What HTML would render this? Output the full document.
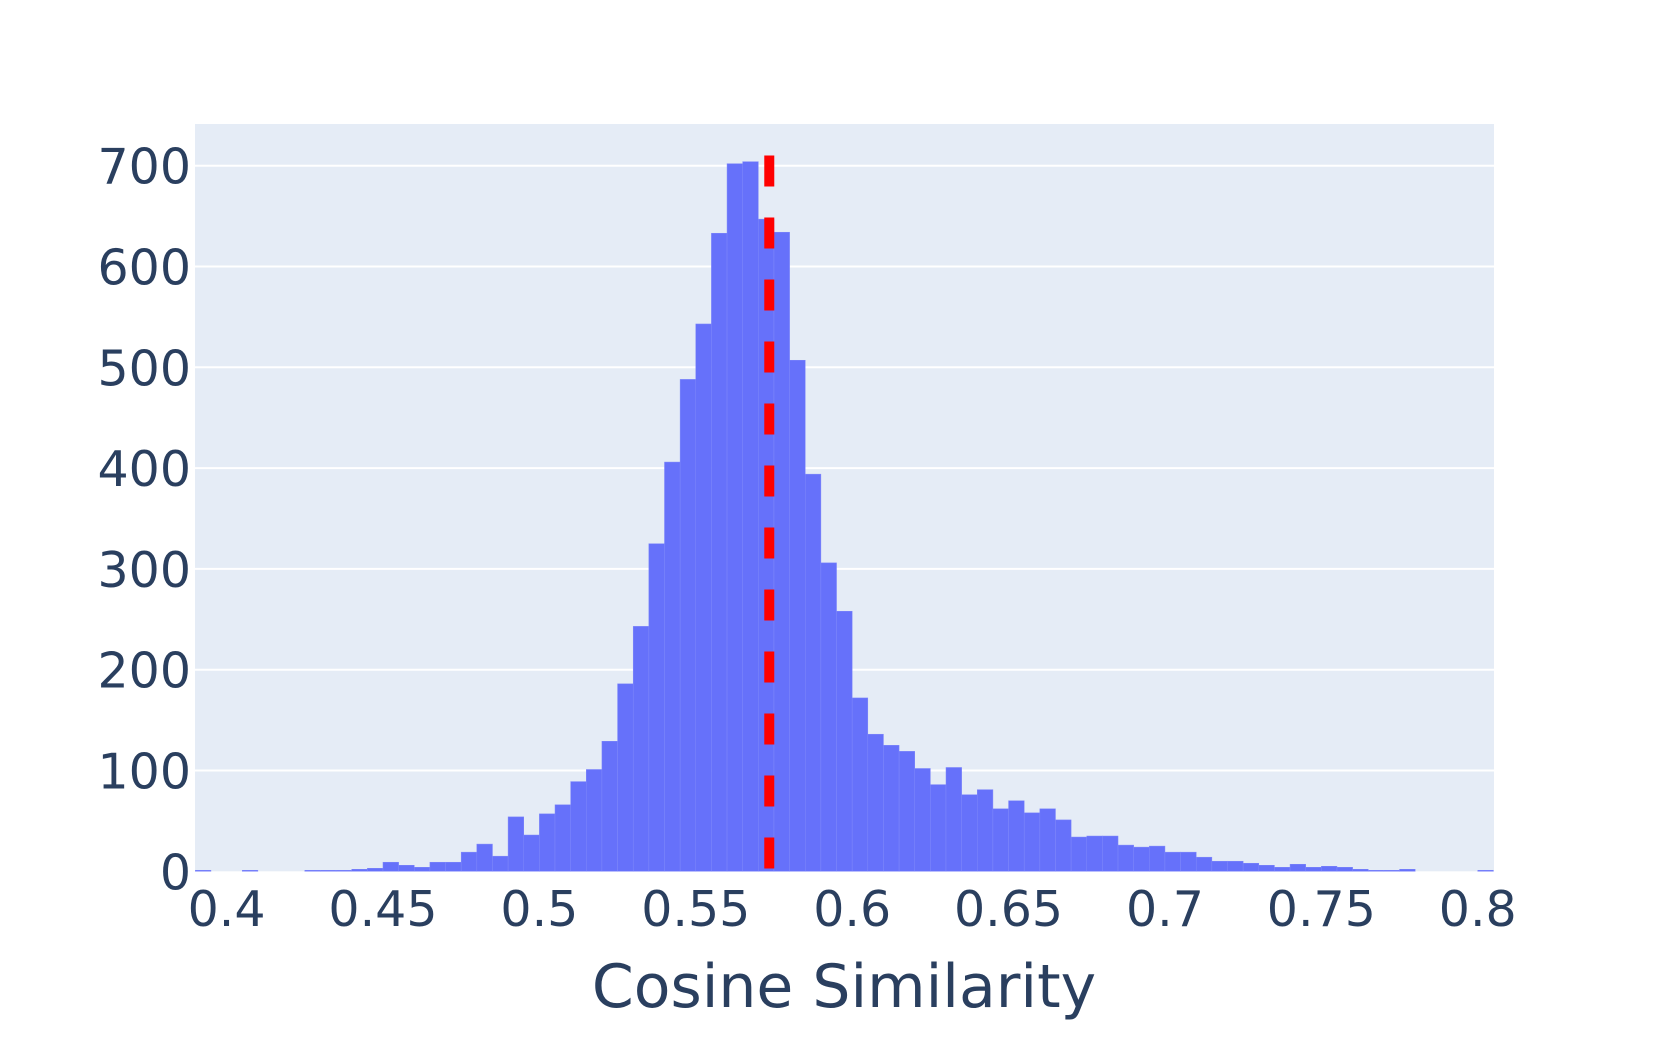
<!DOCTYPE html>
<html><head><meta charset="utf-8"><style>
html,body{margin:0;padding:0;background:#fff;}
svg{display:block;font-family:"DejaVu Sans","Liberation Sans",sans-serif;}
</style></head><body>
<svg id="chart" width="1661" height="1038" viewBox="0 0 1661 1038" xmlns="http://www.w3.org/2000/svg">
<rect x="195" y="124" width="1299" height="747.3" fill="#e5ecf6"/>
<g id="grid"></g>
<g id="bars"></g>
<g id="mean"></g>
<g id="yticks"></g>
<g id="xticks"></g>
<text x="844" y="1007" text-anchor="middle" font-size="60" fill="#2a3f5f">Cosine Similarity</text>
</svg>
<script>
const binStart = 0.39;
const binSize = 0.005;
const counts = [1,0,0,1,0,0,0,1,1,1,2,3,9,6,4,9,9,19,27,15,54,36,57,66,89,101,129,186,243,325,406,488,543,633,702,704,647,634,507,394,306,258,172,136,125,119,102,86,103,76,81,62,70,58,62,51,34,35,35,26,24,25,19,19,14,10,10,8,6,4,7,4,5,4,2,1,1,2,0,0,0,0,1];
const yTicks = [0,100,200,300,400,500,600,700];
const xTicks = [0.4,0.45,0.5,0.55,0.6,0.65,0.7,0.75,0.8];
const xTickLabels = ["0.4","0.45","0.5","0.55","0.6","0.65","0.7","0.75","0.8"];
const meanValue = 0.5735;

const NS = "http://www.w3.org/2000/svg";
const X0=195, X1=1494, Y0=871.3;
const xMin=0.3899, xMax=0.8052;
function xs(v){return X0+(v-xMin)/(xMax-xMin)*(X1-X0);}
function ys(v){return Y0-v*1.008;}
function mk(tag,attrs,parent){const e=document.createElementNS(NS,tag);for(const k in attrs)e.setAttribute(k,attrs[k]);parent.appendChild(e);return e;}

const grid=document.getElementById('grid');
yTicks.forEach(t=>{
  if(t===0) return;
  const l=mk('line',{x1:X0,x2:X1,y1:ys(t),y2:ys(t),stroke:'#fff','stroke-width':2},grid);
  
  
});
const bars=document.getElementById('bars');
counts.forEach((c,i)=>{
  if(c<=0) return;
  const a=binStart+i*binSize, b=a+binSize;
  let x1=Math.max(xs(a),X0), x2=Math.min(xs(b),X1);
  const r=mk('rect',{x:x1,y:ys(c),width:x2-x1,height:Y0-ys(c),fill:'#636efa','fill-opacity':0.98,stroke:'#7f88fb','stroke-width':0.5},bars);
  
  
});
const mean=document.getElementById('mean');
const ml=mk('line',{x1:xs(meanValue),x2:xs(meanValue),y1:155.5,y2:Y0,stroke:'#ff0000','stroke-width':10,'stroke-dasharray':'31,31'},mean);


const yt=document.getElementById('yticks');
yTicks.forEach(t=>{
  const e=mk('text',{x:191,y:ys(t)+18,'text-anchor':'end','font-size':49,fill:'#2a3f5f'},yt);
  e.textContent=String(t);
  
  
});
const xt=document.getElementById('xticks');
xTicks.forEach((t,i)=>{
  const e=mk('text',{x:xs(t),y:926,'text-anchor':'middle','font-size':49,fill:'#2a3f5f'},xt);
  e.textContent=xTickLabels[i];
  
  
});
</script>
</body></html>
